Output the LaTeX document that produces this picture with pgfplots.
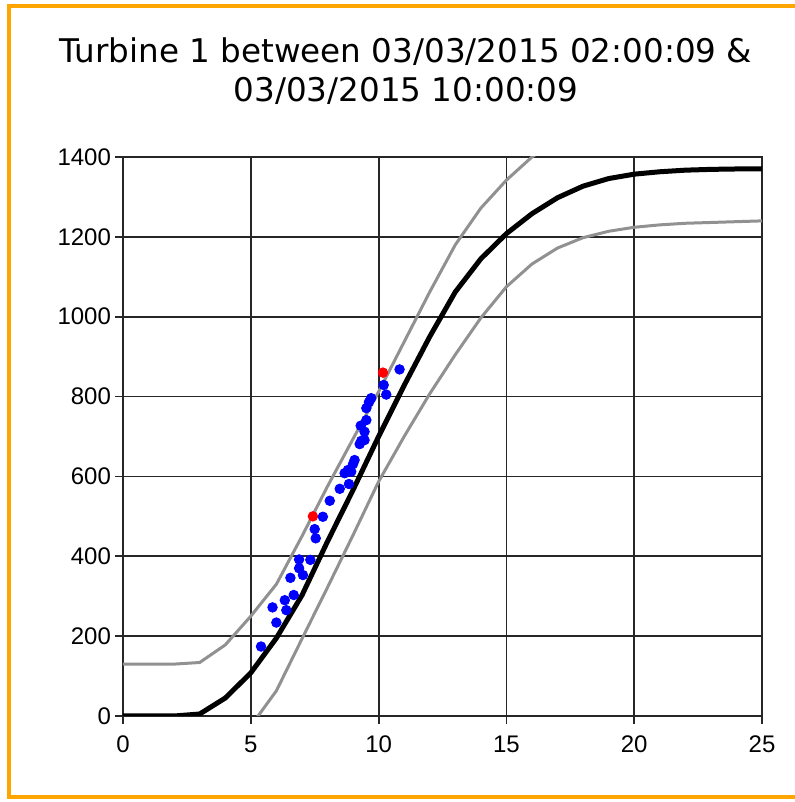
\documentclass[border=0pt]{standalone}
\usepackage{pgfplots}
\pgfplotsset{compat=1.18}
\usepackage{fontspec}
\setmainfont{Liberation Sans}
\newfontfamily\titlefont{DejaVu Sans}
\definecolor{frameorange}{RGB}{255,165,0}
\definecolor{bandgray}{RGB}{145,145,145}

\begin{document}
\begin{tikzpicture}
\begin{axis}[
    scale only axis,
    width=319.5pt, height=279.5pt,
    xmin=0, xmax=25,
    ymin=0, ymax=1400,
    xtick={0,5,...,25},
    ytick={0,200,...,1400},
    grid=major,
    grid style={black!85, line width=0.9pt},
    axis line style={black!85, line width=0.9pt},
    tick style={black!85, line width=0.9pt},
    tick align=outside,
    tick pos=left,
    major tick length=4pt,
    tick label style={font=\fontsize{12}{14}\selectfont},
    xticklabel style={yshift=-2.5pt},
    yticklabel style={xshift=1.5pt},
    /pgf/number format/assume math mode=true,
    /pgf/number format/1000 sep={},
]
% red points
\addplot[only marks, mark=*, mark size=2.4pt, red] coordinates {
(7.43,500) (10.17,860)
};
% lower band
\addplot[bandgray, line width=1.5pt] coordinates {
(5,-25) (6,63) (7,193) (8,322) (9,453) (10,587) (11,700) (12,807)
(13,905) (14,997) (15,1075) (16,1132) (17,1172) (18,1198) (19,1214)
(20,1224) (21,1230) (22,1234) (23,1236) (24,1238) (25,1240)
};
% upper band
\addplot[bandgray, line width=1.5pt] coordinates {
(0,130) (1,130) (2,130) (3,134) (4,178) (5,250) (6,330) (7,450) (8,575)
(9,694) (10,812) (11,937) (12,1062) (13,1180) (14,1272) (15,1342)
(16,1400) (17,1445) (18,1475)
};
% power curve
\addplot[black, line width=2.5pt] coordinates {
(0,0) (1,0) (2,0) (3,5) (4,45) (5,108) (6,195) (7,302) (8,437) (9,566)
(10,700) (11,828) (12,950) (13,1062) (14,1145) (15,1208) (16,1258)
(17,1298) (18,1327) (19,1346) (20,1357) (21,1363) (22,1367) (23,1369)
(24,1370) (25,1370)
};
% measured points
\addplot[only marks, mark=*, mark size=2.4pt, blue] coordinates {
(5.40,174) (5.85,272) (6.00,234) (6.33,290) (6.39,265) (6.55,346)
(6.68,303) (6.89,370) (6.89,392) (7.04,353) (7.33,391) (7.50,468)
(7.54,445) (7.82,499) (8.09,539) (8.48,569) (8.84,581) (8.67,608)
(8.80,616) (8.93,612) (9.00,631) (9.06,641) (9.26,681) (9.32,689)
(9.45,691) (9.45,712) (9.30,727) (9.52,741) (9.52,771) (9.62,786)
(9.71,796) (10.30,805) (10.20,829) (10.82,868)
};
\end{axis}
\node[anchor=base, font=\titlefont\fontsize{16.3}{20}\selectfont] at (141.5pt,326.9pt)
  {Turbine 1 between 03/03/2015 02:00:09 \&};
\node[anchor=base, font=\titlefont\fontsize{16.3}{20}\selectfont] at (141.5pt,307.2pt)
  {03/03/2015 10:00:09};
\draw[frameorange, line width=2pt] (340pt,355pt) -- (-57pt,355pt) -- (-57pt,-40.5pt) -- (340pt,-40.5pt);
\pgfresetboundingbox
\path[use as bounding box] (-61.5pt,-43pt) rectangle (335.5pt,358pt);
\end{tikzpicture}
\end{document}
